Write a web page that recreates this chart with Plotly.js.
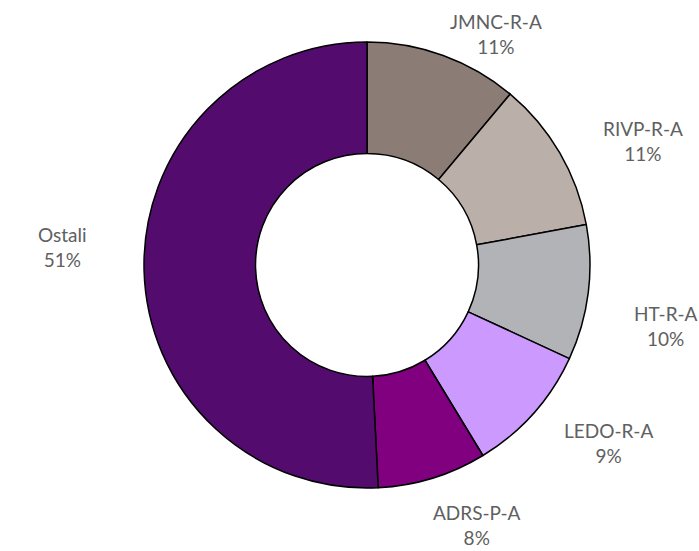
<!DOCTYPE html>
<html>
<head>
<meta charset="utf-8">
<script src="https://cdn.plot.ly/plotly-3.0.1.min.js"></script>
<style>html,body{margin:0;padding:0;background:#fff;}#chart{width:699px;height:551px;}</style>
</head>
<body>
<div id="chart"></div>
<script>
// Data
var categories = ["JMNC-R-A", "RIVP-R-A", "HT-R-A", "LEDO-R-A", "ADRS-P-A", "Ostali"];
var shares = [11.1, 11.0, 9.8, 9.4, 7.9, 50.8];
var sliceColors = ["#8B7D76", "#BBB0A9", "#B2B3B6", "#CC99FF", "#800080", "#530C6E"];

var W = 699, H = 551;
var cxPx = 367, cyPx = 265, Rpx = 223;

var total = shares.reduce(function (a, b) { return a + b; }, 0);

// Label placement derived from the slice mid-angles (clockwise from 12 o'clock)
var annotations = [];
var cum = 0;
var deg = Math.PI / 180;
for (var i = 0; i < shares.length; i++) {
  var mid = (cum + shares[i] / 2) / total * 2 * Math.PI;
  cum += shares[i];
  var shift = (mid > 120 * deg && mid < 180 * deg) ? -4 * deg : 5 * deg;
  var a = mid + shift;
  var lx = cxPx + 1.37 * Rpx * Math.sin(a);
  var ly = cyPx - 1.30 * Rpx * Math.cos(a);
  ly = Math.max(34, Math.min(H - 26, ly));
  annotations.push({
    xref: "paper", yref: "paper",
    x: lx / W, y: 1 - ly / H,
    xanchor: "center", yanchor: "middle",
    showarrow: false,
    align: "center",
    text: categories[i] + "<br>" + Math.round(shares[i] / total * 100) + "%",
    font: {family: "Lato, 'Open Sans', sans-serif", size: 19, color: "#606060"}
  });
}

var trace = {
  type: "pie",
  labels: categories,
  values: shares,
  sort: false,
  direction: "clockwise",
  rotation: 0,
  hole: 0.5,
  textinfo: "none",
  hoverinfo: "label+percent",
  marker: {colors: sliceColors, line: {color: "#000000", width: 1.5}},
  domain: {
    x: [(cxPx - Rpx) / W, (cxPx + Rpx) / W],
    y: [1 - (cyPx + Rpx) / H, 1 - (cyPx - Rpx) / H]
  }
};

var layout = {
  width: W, height: H,
  margin: {l: 0, r: 0, t: 0, b: 0},
  showlegend: false,
  paper_bgcolor: "#ffffff",
  annotations: annotations
};

Plotly.newPlot("chart", [trace], layout, {displayModeBar: false, staticPlot: true});
</script>
</body>
</html>
